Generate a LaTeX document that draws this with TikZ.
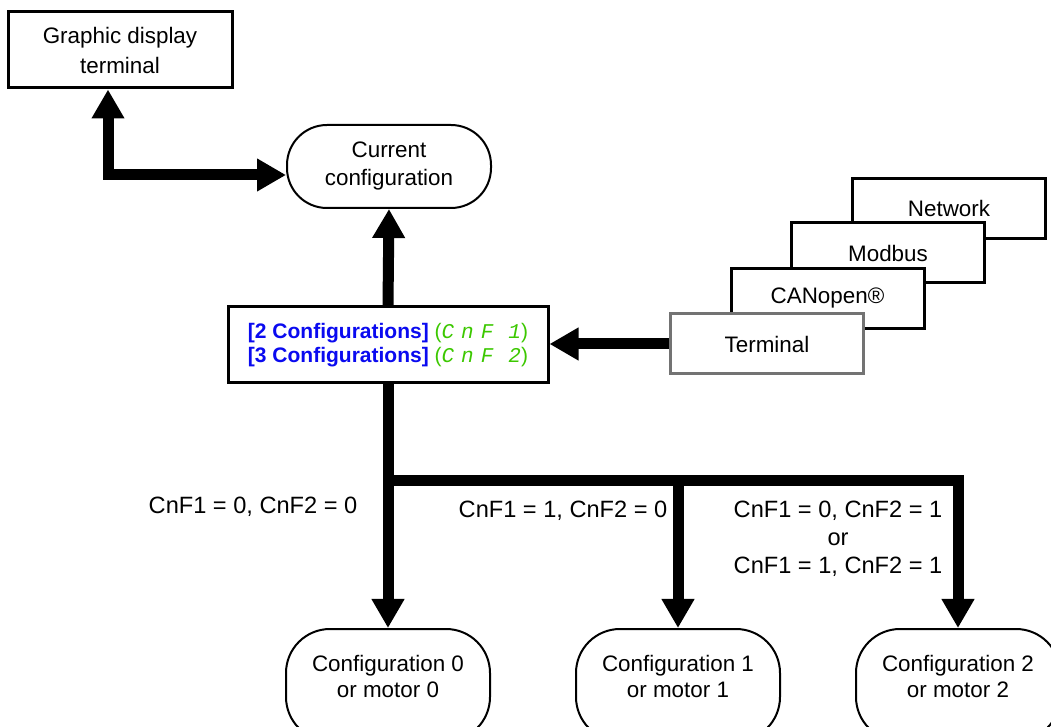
\documentclass[tikz,border=0pt]{standalone}
\usepackage{fontspec}
\setmainfont{Liberation Sans}
\newfontfamily\segfont{Liberation Mono}
\usetikzlibrary{arrows.meta}
\definecolor{cfgBlue}{RGB}{10,10,240}
\definecolor{segGreen}{RGB}{60,200,0}
% seven segment code of the parameter
\newcommand{\cnfcode}[1]{\textcolor{segGreen}{({\segfont\itshape C\kern3.5pt n\kern3.5pt F\kern7.5pt #1})}}
\begin{document}
\begin{tikzpicture}[x=0.5pt,y=-0.5pt,
    cfgTxt/.style={font=\fontsize{11.2}{13}\selectfont,align=center},
    cfgBox/.style={cfgTxt,draw=black,line width=1.5pt,fill=white,inner sep=0pt},
    cfgOval/.style={cfgTxt,draw=black,line width=1pt,fill=white,rounded corners=20pt,minimum width=102pt,inner sep=0pt},
    cfgStack/.style={cfgBox,minimum width=96.5pt,minimum height=30pt},
    cfgCond/.style={cfgTxt,font=\fontsize{11.8}{14}\selectfont},
    cfgArr/.style={->,>={Triangle[length=14.5pt,width=15.5pt]},line width=5.5pt,line join=miter},
]
\useasboundingbox (0,0) rectangle (1051,727);
% Terminal and current configuration
\node[cfgBox,minimum width=112pt,minimum height=38pt,font=\fontsize{11.2}{15}\selectfont] (gdt) at (120,50) {Graphic display\\terminal};
\node[cfgOval,minimum height=41.5pt,font=\fontsize{11.2}{14}\selectfont] (curcfg) at (389,166.5) {Current\\configuration};
\coordinate (gdtcorner) at (108,175);
\draw[cfgArr,<->] (gdt.south -| gdtcorner) -- (gdtcorner) -- (curcfg.west |- gdtcorner);
% Selection of the configuration
\node[cfgBox,minimum width=160pt,minimum height=38pt,font=\fontsize{10.5}{12}\selectfont] (cfgsel) at (388,345)
  {\textcolor{cfgBlue}{\bfseries [2 Configurations]} \cnfcode{1}\\
   \textcolor{cfgBlue}{\bfseries [3 Configurations]} \cnfcode{2}};
\draw[cfgArr] (cfgsel.north) -- (curcfg.south);
% Channels, drawn from back to front
\node[cfgStack] (net) at (949,208.5) {Network};
\node[cfgStack] (modbus) at (888,253) {Modbus};
\node[cfgStack] (canopen) at (827.5,298.5) {CANopen®};
\node[cfgStack,draw=black!55] (term) at (767,344) {Terminal};
\draw[cfgArr] (term.west) -- (term.west -| cfgsel.east);
% Configurations 0, 1 and 2
\node[cfgOval,minimum height=56pt,anchor=north,rounded corners=22pt] (conf0) at (388,628) {Configuration 0\\or motor 0\\[-4pt]};
\node[cfgOval,minimum height=56pt,anchor=north,rounded corners=22pt] (conf1) at (678,628) {Configuration 1\\or motor 1\\[-4pt]};
\node[cfgOval,minimum height=56pt,anchor=north,rounded corners=22pt] (conf2) at (958,628) {Configuration 2\\or motor 2\\[-4pt]};
\coordinate (busL) at (388,481);
\draw[cfgArr] (cfgsel.south) -- (conf0.north);
\draw[cfgArr] (busL) -| (conf2.north);
\draw[cfgArr] (busL -| conf1.north) -- (conf1.north);
% Conditions
\node[cfgCond] (cond0) at (253,507) {CnF1 = 0, CnF2 = 0};
\node[cfgCond] (cond1) at (563,511) {CnF1 = 1, CnF2 = 0};
\node[cfgCond] (cond2) at (838,539) {CnF1 = 0, CnF2 = 1\\or\\CnF1 = 1, CnF2 = 1};
\end{tikzpicture}
\end{document}
